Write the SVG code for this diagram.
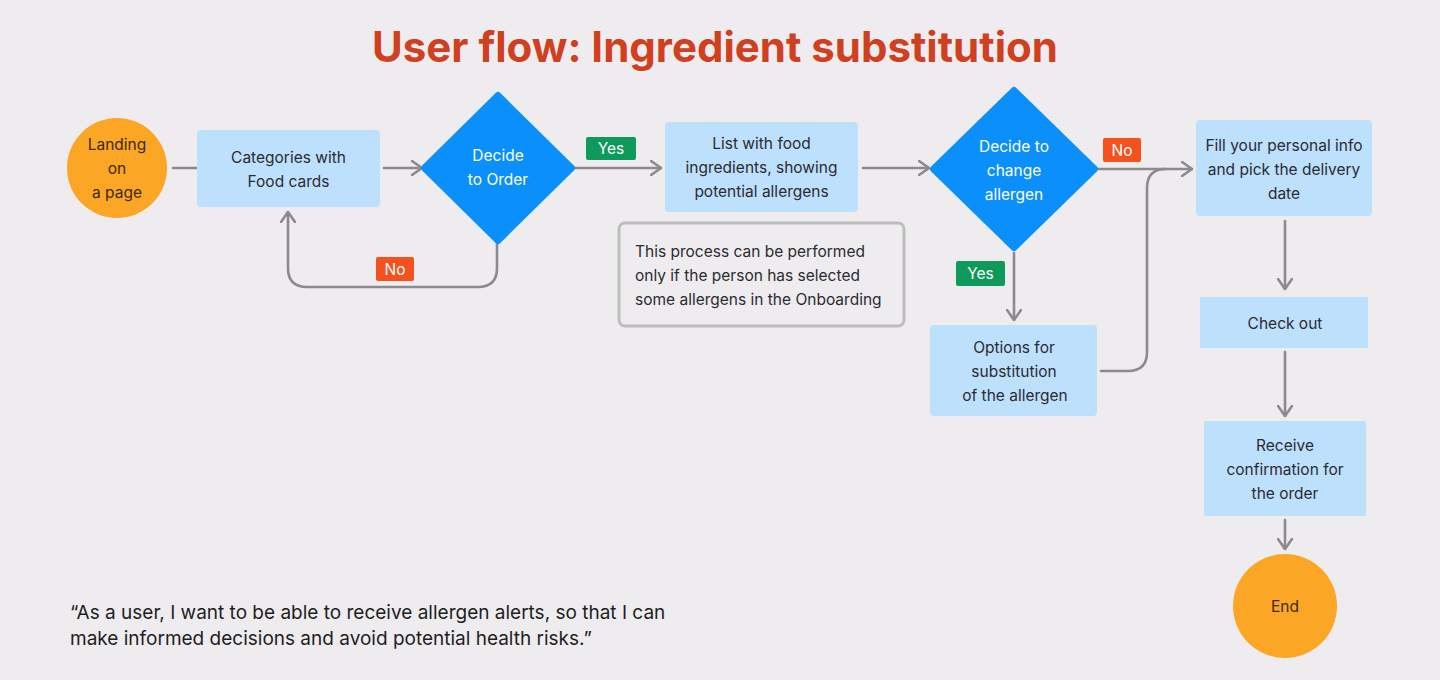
<svg xmlns="http://www.w3.org/2000/svg" width="1440" height="680" viewBox="0 0 1440 680">
<defs>
<marker id="ah" viewBox="0 0 12 16" refX="11" refY="8" markerWidth="12" markerHeight="16" markerUnits="userSpaceOnUse" orient="auto">
<path d="M1,1 L11,8 L1,15" fill="none" stroke="#8C8A8D" stroke-width="2.6" stroke-linecap="round" stroke-linejoin="round"/>
</marker>
<style>
text{font-family:Inter,"Noto Sans","Liberation Sans",sans-serif}
.box{fill:#BDE0FD}
.t{font-size:15.5px;fill:#2B2B30;text-anchor:middle}
.w{font-size:15.5px;fill:#FFFFFF;text-anchor:middle}
.c{fill:none;stroke:#8C8A8D;stroke-width:2.6;stroke-linecap:round}
.lbl{font-size:15.5px;fill:#FFFFFF;text-anchor:middle}
</style>
</defs>
<rect width="1440" height="680" fill="#EEECEF"/>
<text x="715" y="62" text-anchor="middle" style="font-size:42px;font-weight:700;fill:#D0401F">User flow:  Ingredient substitution</text>

<g id="connectors">
<path class="c" d="M173,168 L197,168"/>
<path class="c" d="M384,168 L422,168" marker-end="url(#ah)"/>
<path class="c" d="M572,168 L661,168" marker-end="url(#ah)"/>
<path class="c" d="M863,168 L929,168" marker-end="url(#ah)"/>
<path class="c" d="M1098,169 L1192,169" marker-end="url(#ah)"/>
<path class="c" d="M1101,371 L1128,371 Q1147,371 1147,352 L1147,188 Q1147,169 1166,169"/>
<path class="c" d="M1014,253 L1014,320" marker-end="url(#ah)"/>
<path class="c" d="M497,242 L497,268 Q497,287 478,287 L307,287 Q288,287 288,268 L288,212" marker-end="url(#ah)"/>
<path class="c" d="M1285,221 L1285,289" marker-end="url(#ah)"/>
<path class="c" d="M1285,352 L1285,416" marker-end="url(#ah)"/>
<path class="c" d="M1285,520 L1285,549" marker-end="url(#ah)"/>
<rect x="586" y="137" width="50" height="23" rx="2" fill="#0E9A5A"/><text class="lbl" x="611" y="154">Yes</text>
<rect x="376" y="257" width="38" height="24" rx="2" fill="#F4511E"/><text class="lbl" x="395" y="275">No</text>
<rect x="1103" y="138" width="38" height="24" rx="2" fill="#F4511E"/><text class="lbl" x="1122" y="156">No</text>
<rect x="956" y="261" width="49" height="25" rx="2" fill="#0E9A5A"/><text class="lbl" x="980.5" y="279">Yes</text>
</g>

<g id="landing"><circle cx="117" cy="168" r="50" fill="#FCA625"/>
<text class="t" x="117" y="150" style="fill:#3A2A10">Landing</text><text class="t" x="117" y="174" style="fill:#3A2A10">on</text><text class="t" x="117" y="198" style="fill:#3A2A10">a page</text></g>

<g id="categories"><rect class="box" x="197" y="130" width="183" height="77" rx="4"/>
<text class="t" x="288.5" y="163">Categories with</text><text class="t" x="288.5" y="187">Food cards</text></g>

<g id="decide-order"><path d="M498,95 L572,168 L498,241 L424,168 Z" fill="#0A8FFB" stroke="#0A8FFB" stroke-width="6" stroke-linejoin="round"/>
<text class="w" x="498" y="161">Decide</text><text class="w" x="498" y="185">to Order</text></g>

<g id="list"><rect class="box" x="665" y="122" width="193" height="90" rx="4"/>
<text class="t" x="761.5" y="149">List with food</text><text class="t" x="761.5" y="173">ingredients, showing</text><text class="t" x="761.5" y="197">potential allergens</text></g>

<g id="note"><rect x="619" y="223" width="285" height="103" rx="6" fill="none" stroke="#BDBDBD" stroke-width="3"/>
<text x="635" y="257" style="font-size:15.5px;fill:#2B2B30">This process can be performed</text>
<text x="635" y="281" style="font-size:15.5px;fill:#2B2B30">only if the person has selected</text>
<text x="635" y="305" style="font-size:15.5px;fill:#2B2B30">some allergens in the Onboarding</text></g>

<g id="decide-change"><path d="M1014,90 L1095,169 L1014,248 L933,169 Z" fill="#0A8FFB" stroke="#0A8FFB" stroke-width="6" stroke-linejoin="round"/>
<text class="w" x="1014" y="152">Decide to</text><text class="w" x="1014" y="176">change</text><text class="w" x="1014" y="200">allergen</text></g>

<g id="options"><rect class="box" x="930" y="325" width="167" height="91" rx="4"/>
<text class="t" x="1014" y="353">Options for</text><text class="t" x="1014" y="377">substitution</text><text class="t" x="1015" y="401">of the allergen</text></g>

<g id="fill"><rect class="box" x="1196" y="120" width="176" height="96" rx="4"/>
<text class="t" x="1284" y="151">Fill your personal info</text><text class="t" x="1284" y="175">and pick the delivery</text><text class="t" x="1284" y="199">date</text></g>

<g id="checkout"><rect class="box" x="1200" y="297" width="168" height="51"/>
<text class="t" x="1285" y="329">Check out</text></g>

<g id="receive"><rect class="box" x="1204" y="421" width="162" height="95" rx="2"/>
<text class="t" x="1285" y="451">Receive</text><text class="t" x="1285" y="475">confirmation for</text><text class="t" x="1285" y="499">the order</text></g>

<g id="end"><circle cx="1285" cy="606" r="52" fill="#FCA625"/><text class="t" x="1285" y="612" style="fill:#3A2A10">End</text></g>

<text x="70" y="619" style="font-size:19px;fill:#1E1E22">“As a user, I want to be able to receive  allergen alerts, so that I can</text>
<text x="70" y="645" style="font-size:19px;fill:#1E1E22">make informed decisions and avoid potential health risks.”</text>
</svg>
